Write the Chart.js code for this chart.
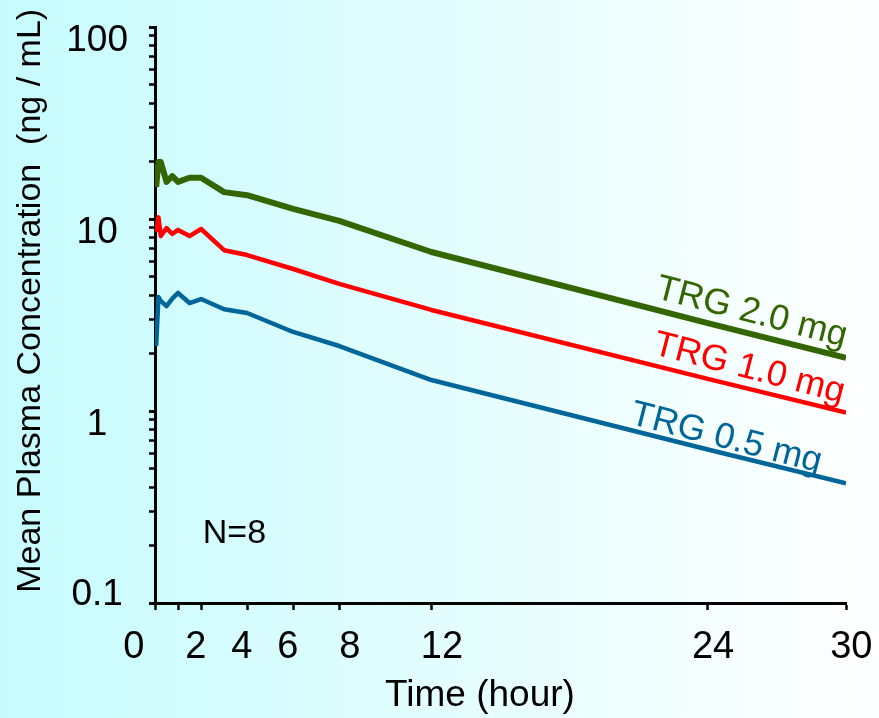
<!DOCTYPE html>
<html>
<head>
<meta charset="utf-8">
<script src="https://cdn.jsdelivr.net/npm/chart.js@4"></script>
<style>
  html, body { margin: 0; padding: 0; }
  #wrap { width: 879px; height: 718px; background: linear-gradient(to right, #c6fbfd, #ffffff); }
</style>
</head>
<body>
<div id="wrap"><canvas id="chart" width="879" height="718"></canvas></div>
<script>
// sampling times (hour)
const timePoints = [0.05, 0.15, 0.25, 0.5, 0.75, 1, 1.5, 2, 3, 4, 6, 8, 12, 24, 30];
// mean plasma concentration (ng/mL)
const dose20 = [14.7, 19.8, 19.8, 15.6, 16.7, 15.6, 16.4, 16.4, 13.8, 13.3, 11.3, 9.77, 6.73, 2.87, 1.89];
const dose10 = [8.56, 10.2, 8.15, 8.97, 8.35, 8.77, 8.15, 8.87, 6.88, 6.49, 5.49, 4.59, 3.36, 1.47, 0.98];
const dose05 = [2.18, 3.92, 3.75, 3.52, 3.85, 4.12, 3.65, 3.83, 3.39, 3.24, 2.58, 2.18, 1.45, 0.63, 0.42];
const seriesNames = ['TRG 2.0 mg', 'TRG 1.0 mg', 'TRG 0.5 mg'];
const seriesColors = ['#336600', '#ff0000', '#006699'];
// where the in-plot labels sit (hour, ng/mL)
const labelAt = [[25.9, 3.25], [25.8, 1.66], [24.8, 0.72]];

const xTicks = [0, 1, 2, 4, 6, 8, 12, 24, 30];
// spaces nudge the labels the way the original slide has them
const xTickLabels = ['0    ', '', '2 ', '4 ', '6 ', '  8', '  12', ' 24', ' 30'];
const yTicks = [0.1, 0.2, 0.3, 0.4, 0.5, 0.6, 0.7, 0.8, 0.9,
                1, 2, 3, 4, 5, 6, 7, 8, 9,
                10, 20, 30, 40, 50, 60, 70, 80, 90, 100];
const yMajor = [0.1, 1, 10, 100];

const FONT = '"Liberation Sans", Arial, sans-serif';

function pts(vals) {
    return timePoints.map((t, i) => ({ x: t, y: vals[i] }));
}

function noPad(s) {
    s.paddingTop = 0; s.paddingBottom = 0; s.paddingLeft = 0; s.paddingRight = 0;
}

const textPlugin = {
    id: 'texts',
    afterDatasetsDraw(chart) {
        const ctx = chart.ctx;
        const xs = chart.scales.x, ys = chart.scales.y;
        ctx.save();
        ctx.textAlign = 'center';
        ctx.textBaseline = 'middle';
        ctx.font = '36px ' + FONT;
        seriesNames.forEach((name, i) => {
            const px = xs.getPixelForValue(labelAt[i][0]);
            const py = ys.getPixelForValue(labelAt[i][1]);
            ctx.save();
            ctx.translate(px, py);
            ctx.rotate(14.5 * Math.PI / 180);
            ctx.fillStyle = seriesColors[i];
            ctx.fillText(name, 0, 0);
            ctx.restore();
        });
        ctx.fillStyle = '#000';
        ctx.font = '34px ' + FONT;
        ctx.fillText('N=8', xs.getPixelForValue(3.45), ys.getPixelForValue(0.23));
        ctx.restore();
    }
};

new Chart(document.getElementById('chart'), {
    type: 'line',
    data: {
        datasets: [
            { label: seriesNames[0], data: pts(dose20), borderColor: seriesColors[0], borderWidth: 6 },
            { label: seriesNames[1], data: pts(dose10), borderColor: seriesColors[1], borderWidth: 4.5 },
            { label: seriesNames[2], data: pts(dose05), borderColor: seriesColors[2], borderWidth: 4.5 }
        ]
    },
    options: {
        responsive: false,
        animation: false,
        layout: { padding: { top: 27, right: 33, left: 0, bottom: 0 } },
        elements: { point: { radius: 0 }, line: { tension: 0, borderJoinStyle: 'round' } },
        plugins: { legend: { display: false }, tooltip: { enabled: false } },
        scales: {
            x: {
                type: 'linear',
                min: 0,
                max: 30,
                afterBuildTicks: (s) => { s.ticks = xTicks.map(v => ({ value: v })); },
                afterFit: (s) => { s.height = 115; noPad(s); },
                ticks: {
                    autoSkip: false,
                    maxRotation: 0,
                    padding: 15,
                    color: '#000',
                    font: { family: FONT, size: 38 },
                    callback: (v) => xTickLabels[xTicks.indexOf(v)]
                },
                grid: { drawOnChartArea: false, drawTicks: true, tickLength: 7, tickColor: '#000', tickWidth: 2.5 },
                border: { display: true, color: '#000', width: 3 },
                title: {
                    display: true,
                    text: 'Time (hour)    ',
                    color: '#000',
                    font: { family: FONT, size: 37 },
                    padding: { top: 0, bottom: 0 }
                }
            },
            y: {
                type: 'logarithmic',
                min: 0.1,
                max: 100,
                afterBuildTicks: (s) => { s.ticks = yTicks.map(v => ({ value: v })); },
                afterFit: (s) => { s.width = 155; noPad(s); },
                ticks: {
                    autoSkip: false,
                    padding: 21,
                    labelOffset: 14,
                    crossAlign: 'center',
                    color: '#000',
                    font: { family: FONT, size: 37 },
                    callback: (v) => {
                        if (v === 0.1) return ['0.1', ''];
                        return yMajor.includes(v) ? String(v) : '';
                    }
                },
                grid: {
                    drawOnChartArea: false,
                    drawTicks: true,
                    tickLength: 6,
                    tickColor: '#000',
                    tickWidth: (c) => yMajor.includes(c.tick.value) ? 3 : 2.5
                },
                border: { display: true, color: '#000', width: 3 },
                title: {
                    display: true,
                    text: '   Mean Plasma Concentration  (ng / mL)',
                    color: '#000',
                    font: { family: FONT, size: 34 },
                    padding: { top: 10, bottom: 0 }
                }
            }
        }
    },
    plugins: [textPlugin]
});
</script>
</body>
</html>
